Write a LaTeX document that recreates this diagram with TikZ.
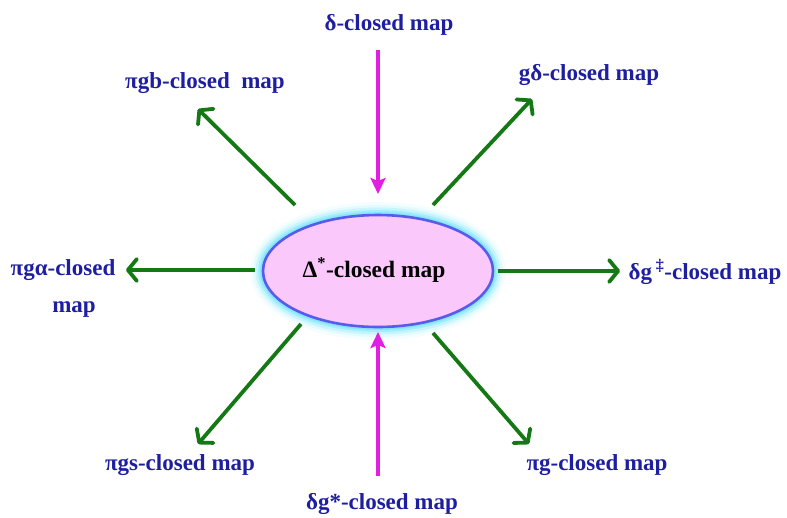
\documentclass[tikz,border=0pt]{standalone}
\usepackage{fontspec}
\setmainfont{Liberation Serif}
\usetikzlibrary{arrows.meta,shapes.geometric}
\definecolor{lblue}{RGB}{30,30,160}
\definecolor{agreen}{RGB}{20,120,20}
\definecolor{amag}{RGB}{225,30,225}
\definecolor{epink}{RGB}{250,200,250}
\definecolor{eborder}{RGB}{90,90,235}
\definecolor{eglow}{RGB}{120,230,250}
\begin{document}
\begin{tikzpicture}[x=1pt,y=-1pt,
  lbl/.style={text=lblue,font=\fontsize{23}{37}\selectfont\bfseries,inner sep=0pt,align=center},
  garrow/.style={draw=agreen,line width=3.8pt,line join=round,-{Straight Barb[length=9pt,width=22pt,line cap=round,line join=round]}},
  marrow/.style={draw=amag,line width=3.2pt,-{Stealth[length=16pt,width=15pt,inset=3pt]}}]
\useasboundingbox (0,0) rectangle (787,517);
% glow
\foreach \w/\o in {26/0.08,20/0.14,15/0.25,10/0.45,6/0.7}{
  \draw[eglow,line width=\w pt,opacity=\o] (378,271) ellipse [x radius=115, y radius=56];
}
\node[ellipse,draw=eborder,line width=2.6pt,fill=epink,minimum width=230pt,minimum height=112pt,inner sep=0pt] (c) at (378,271) {};
\node[font=\fontsize{23.5}{26}\selectfont\bfseries,inner sep=0pt] (ct) at (374,270) {Δ\textsuperscript{*}-closed map};

\node[lbl] (top) at (389,25) {δ-closed map};
\node[lbl] (tl) at (205,83) {πgb-closed\ \ map};
\node[lbl] (tr) at (589,75) {gδ-closed map};
\node[lbl] (l) at (63,288) {πgα-closed\\\hspace*{22pt}map};
\node[lbl] (r) at (705,272) {δg\,\textsuperscript{‡}-closed map};
\node[lbl] (bl) at (180,465) {πgs-closed map};
\node[lbl] (br) at (597,465) {πg-closed map};
\node[lbl] (bot) at (382,504) {δg*-closed map};

\coordinate (s1) at (378,50);  \coordinate (e1) at (378,194);
\coordinate (s2) at (378,476); \coordinate (e2) at (378,332);
\coordinate (s3) at (498,271); \coordinate (e3) at (620,271);
\coordinate (s4) at (255,270); \coordinate (e4) at (126,270);
\coordinate (s5) at (295,205); \coordinate (e5) at (198,109);
\coordinate (s6) at (433,205); \coordinate (e6) at (532,99);
\coordinate (s7) at (301,324); \coordinate (e7) at (198,444);
\coordinate (s8) at (433,333); \coordinate (e8) at (529,444);

\draw[marrow] (s1) -- (e1);
\draw[marrow] (s2) -- (e2);
\draw[garrow] (s3) -- (e3);
\draw[garrow] (s4) -- (e4);
\draw[garrow] (s5) -- (e5);
\draw[garrow] (s6) -- (e6);
\draw[garrow] (s7) -- (e7);
\draw[garrow] (s8) -- (e8);
\end{tikzpicture}
\end{document}
